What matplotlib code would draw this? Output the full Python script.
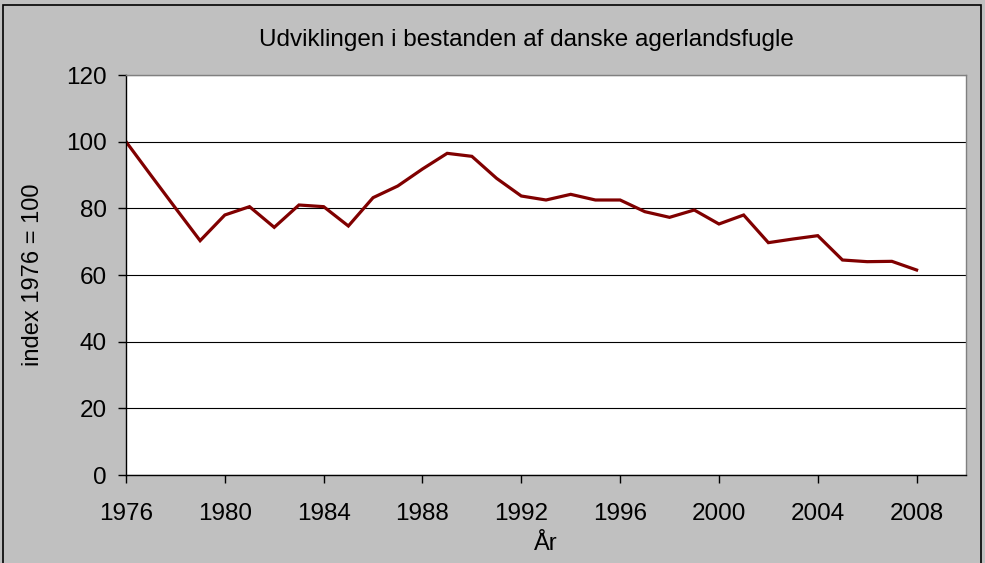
import numpy as np
from matplotlib import pyplot as plt
from matplotlib.patches import Rectangle

years = list(range(1976, 2009))
index = [100, 90, 80.1, 70.3, 78, 80.5, 74.3, 81, 80.5, 74.7,
         83.2, 86.7, 91.8, 96.5, 95.6, 89, 83.7, 82.5, 84.2, 82.5,
         82.5, 79, 77.3, 79.5, 75.3, 78, 69.7, 70.8, 71.8, 64.5,
         64, 64.1, 61.5]
xticks = list(range(1976, 2009, 4))
yticks = [0, 20, 40, 60, 80, 100, 120]


def main():
    plt.rcParams['font.family'] = ['Liberation Sans', 'DejaVu Sans']
    fig = plt.figure(figsize=(9.85, 5.63), dpi=100, facecolor='#c0c0c0')
    ax = fig.add_axes([126 / 985, 1 - 475 / 563, 840 / 985, 400 / 563])
    ax.set_facecolor('white')

    ax.plot(years, index, color='#800000', lw=2.3, solid_joinstyle='miter')

    ax.set_xlim(1976, 2010)
    ax.set_ylim(0, 120)
    ax.set_xticks(xticks)
    ax.set_yticks(yticks)
    ax.tick_params(direction='out', length=6, width=1, labelsize=17.5, colors='black')
    ax.tick_params(axis='x', pad=14)
    ax.tick_params(axis='y', pad=8)
    ax.grid(axis='y', color='black', lw=0.8)
    ax.set_axisbelow(True)
    for s in ['top', 'right']:
        ax.spines[s].set_color('#808080')
        ax.spines[s].set_linewidth(1)
    for s in ['left', 'bottom']:
        ax.spines[s].set_color('black')
        ax.spines[s].set_linewidth(1)

    ax.set_xlabel('År', fontsize=17, labelpad=6)
    ax.set_ylabel('index 1976 = 100', fontsize=17, labelpad=16)
    fig.text(526 / 985, 1 - 40 / 563, 'Udviklingen i bestanden af danske agerlandsfugle',
             ha='center', va='center', fontsize=17.5)

    # outer chart border
    fig.patches.append(Rectangle((3 / 985, -0.05), 978 / 985, 1.05 - 5 / 563,
                                 transform=fig.transFigure, fill=False,
                                 edgecolor='black', lw=1.2))

    fig.savefig('out.png', dpi=100, facecolor=fig.get_facecolor())


if __name__ == "__main__":
    main()
